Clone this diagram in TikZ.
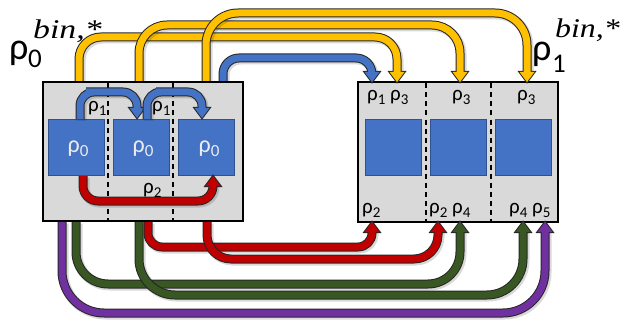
\documentclass[tikz,border=0pt]{standalone}
\usepackage{fontspec}
\usepackage{graphicx}
\setmainfont{Carlito}
\newfontfamily\serifit{Liberation Serif}
\usetikzlibrary{calc}
\definecolor{cyel}{HTML}{FFC000}
\definecolor{cblue}{HTML}{4472C4}
\definecolor{cred}{HTML}{C00000}
\definecolor{cgreen}{HTML}{385723}
\definecolor{cpurp}{HTML}{7030A0}
\definecolor{cbox}{HTML}{D9D9D9}
\definecolor{csqedge}{HTML}{2F528F}
\definecolor{cedge}{HTML}{262626}
\newcommand\rs[1]{ρ\raisebox{-4pt}{\fontsize{15}{15}\selectfont#1}}
\newcommand\rsq[1]{ρ\raisebox{-4pt}{\fontsize{17}{17}\selectfont#1}}
\newcommand\fatarrow[5]{%
  \draw[shadowline, rounded corners=#2] #3;
  \draw[outlineline, rounded corners=#2] #3;
  \fill[draw=cedge, line width=2, fill=cedge] ($(#4)+(-7.5,#5)$) -- (#4) -- ($(#4)+(7.5,#5)$) -- cycle;
  \draw[coreline=#1, rounded corners=#2] #3;
  \fill[#1] ($(#4)+(-7.5,#5)$) -- (#4) -- ($(#4)+(7.5,#5)$) -- cycle;
}
\begin{document}
\begin{tikzpicture}[x=1pt, y=-1pt,
  shadowline/.style={line width=10, draw=black, opacity=0.15, shorten >=8, transform canvas={xshift=1.5pt, yshift=-1.5pt}},
  outlineline/.style={line width=9, draw=cedge, shorten >=8},
  coreline/.style={line width=7, draw=#1, shorten >=8},
  bigbox/.style={draw=black, line width=2, fill=cbox, minimum width=200, minimum height=139, inner sep=0},
  sq/.style={draw=csqedge, line width=1, fill=cblue, minimum width=56, minimum height=56, inner sep=0},
  divider/.style={draw=black, line width=2, dash pattern=on 5 off 4},
  lbl/.style={anchor=base west, inner sep=0, font=\fontsize{21}{21}\selectfont},
  sqlbl/.style={anchor=base, inner sep=0, text=white!92!black, font=\fontsize{24}{24}\selectfont},
  biglbl/.style={anchor=base west, inner sep=0, font=\fontsize{38}{38}\selectfont},
  bigsub/.style={anchor=base west, inner sep=0, font=\fontsize{27}{27}\selectfont},
  bigsup/.style={anchor=base west, inner sep=0, font=\serifit\itshape\fontsize{27}{27}\selectfont}]
\useasboundingbox (0,0) rectangle (627,321);
% boxes
\node[bigbox] (L) at (142.5,151.5) {};
\node[bigbox] (R) at (457.5,152) {};
\draw[divider] (108,83) -- (108,221);
\draw[divider] (173,83) -- (173,221);
\draw[divider] (425.5,83.5) -- (425.5,221.5);
\draw[divider] (491,83.5) -- (491,221.5);
\node[sq] (l1) at (76,147) {};
\node[sq] (l2) at (141,147) {};
\node[sq] (l3) at (206,147) {};
\node[sq] (r1) at (393,147) {};
\node[sq] (r2) at (458,147) {};
\node[sq] (r3) at (523,147) {};
% coordinates
\coordinate (ys1) at (79,81);   \coordinate (ye1) at (397,82);
\coordinate (ys2) at (139,81);  \coordinate (ye2) at (460,82);
\coordinate (ys3) at (206,81);  \coordinate (ye3) at (527,82);
\coordinate (bs)  at (223,81);  \coordinate (be)  at (372,82);
\coordinate (ps)  at (62,222);  \coordinate (pe)  at (545,222);
\coordinate (gs1) at (76,222);  \coordinate (ge1) at (460,222);
\coordinate (gs2) at (139,222); \coordinate (ge2) at (523,222);
\coordinate (rs1) at (148,222); \coordinate (re1) at (372,222);
\coordinate (rs2) at (207,222); \coordinate (re2) at (438,222);
\coordinate (ia1) at (80,119);  \coordinate (ib1) at (137,118);
\coordinate (ia2) at (147,119); \coordinate (ib2) at (202,118);
\coordinate (ic1) at (83,176);  \coordinate (ic2) at (213,176);
% top arrows
\fatarrow{cblue}{16}{(bs) |- (300,58) -| (be)}{be}{-10}
\fatarrow{cyel}{22}{(ys1) |- (200,37) -| (ye1)}{ye1}{-10}
\fatarrow{cyel}{28}{(ys2) |- (300,25) -| (ye2)}{ye2}{-10}
\fatarrow{cyel}{32}{(ys3) |- (300,13) -| (ye3)}{ye3}{-10}
% bottom arrows
\fatarrow{cpurp}{42}{(ps) |- (300,313) -| (pe)}{pe}{10}
\fatarrow{cgreen}{32}{(gs1) |- (300,284) -| (ge1)}{ge1}{10}
\fatarrow{cgreen}{36}{(gs2) |- (300,295) -| (ge2)}{ge2}{10}
\fatarrow{cred}{14}{(rs1) |- (250,247) -| (re1)}{re1}{10}
\fatarrow{cred}{24}{(rs2) |- (300,259) -| (re2)}{re2}{10}
% inner arrows
\fatarrow{cblue}{14}{(ia1) |- (100,92) -| (ib1)}{ib1}{-10}
\fatarrow{cblue}{14}{(ia2) |- (170,92) -| (ib2)}{ib2}{-10}
\fatarrow{cred}{15}{(ic1) |- (150,201) -| (ic2)}{ic2}{10}
% square labels
\node[sqlbl] (t1) at (78,152) {\rsq{0}};
\node[sqlbl] (t2) at (143,152) {\rsq{0}};
\node[sqlbl] (t3) at (209,152) {\rsq{0}};
% box labels
\node[lbl] (a1) at (88,111.5) {\rs{1}};
\node[lbl] (a2) at (152,111.5) {\rs{1}};
\node[lbl] (a3) at (143,193) {\rs{2}};
\node[lbl] (b1) at (367,101) {\rs{1} \rs{3}};
\node[lbl] (b2) at (452,101) {\rs{3}};
\node[lbl] (b3) at (517,101) {\rs{3}};
\node[lbl] (c1) at (362,213) {\rs{2}};
\node[lbl] (c2) at (429,213) {\rs{2} \rs{4}};
\node[lbl] (c3) at (509,213) {\rs{4} \rs{5}};
% big labels
\node[biglbl] (g0) at (9,60) {ρ};
\node[bigsub] (g0s) at (28,68) {0};
\node[bigsup] (g0t) at (33,39) {\scalebox{1.25}[1]{bin,*}};
\node[biglbl] (g1) at (532,61) {ρ};
\node[bigsub] (g1s) at (552,73) {1};
\node[bigsup] (g1t) at (555,38) {\scalebox{1.18}[1]{bin,*}};
\end{tikzpicture}
\end{document}
